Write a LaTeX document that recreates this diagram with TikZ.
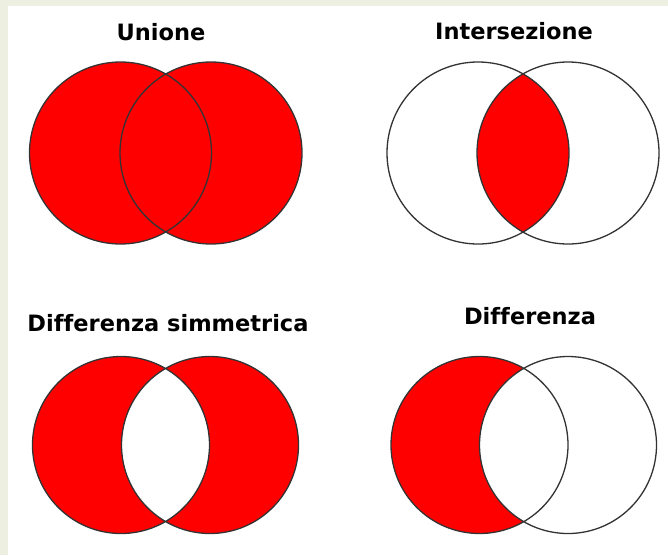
\documentclass[tikz,border=0pt]{standalone}
\usepackage{fontspec}
\setmainfont[Ligatures=NoCommon]{DejaVu Sans}
\usepackage{tikz}
\definecolor{VennRed}{HTML}{FF0000}
\definecolor{PageBeige}{HTML}{EDEFE1}
\definecolor{EdgeGray}{HTML}{333333}

\begin{document}
\begin{tikzpicture}[
  x=1pt, y=-1pt,
  titolo/.style={
    font=\bfseries\fontsize{22.5}{26}\selectfont, text=black, inner sep=0pt
  },
  bordo/.style={draw=EdgeGray, line width=1.3pt},
  pieno/.style={fill=VennRed},
]

% ---------- Page background ----------
\fill[PageBeige] (0,0) rectangle (668,555);
\fill[white] (8,6) rectangle (668,555);
\useasboundingbox (0,0) rectangle (668,555);

% ---------- Titles ----------
\node[titolo] (t_uni)  at (161,32)  {Unione};
\node[titolo] (t_int)  at (514,31)  {Intersezione};
\node[titolo] (t_sym)  at (168,323) {Differenza simmetrica};
\node[titolo] (t_diff) at (530,316) {Differenza};

% ---------- Circle centres ----------
\coordinate (uA) at (120.5,153);  \coordinate (uB) at (211,153);
\coordinate (iA) at (478,153);    \coordinate (iB) at (568,153);
\coordinate (sA) at (121,445);    \coordinate (sB) at (210,445);
\coordinate (dA) at (479.5,445);  \coordinate (dB) at (568,445);

% ---------- Unione ----------
\fill[pieno] (uA) circle[radius=91pt] (uB) circle[radius=91pt];
\draw[bordo] (uA) circle[radius=91pt] (uB) circle[radius=91pt];

% ---------- Intersezione ----------
\begin{scope}
  \clip (iA) circle[radius=91pt];
  \fill[pieno] (iB) circle[radius=91pt];
\end{scope}
\draw[bordo] (iA) circle[radius=91pt] (iB) circle[radius=91pt];

% ---------- Differenza simmetrica ----------
\fill[pieno, even odd rule] (sA) circle[radius=88.5pt] (sB) circle[radius=88.5pt];
\draw[bordo] (sA) circle[radius=88.5pt] (sB) circle[radius=88.5pt];

% ---------- Differenza ----------
\fill[pieno] (dA) circle[radius=88.5pt];
\begin{scope}
  \clip (dA) circle[radius=88.5pt];
  \fill[white] (dB) circle[radius=88.5pt];
\end{scope}
\draw[bordo] (dA) circle[radius=88.5pt] (dB) circle[radius=88.5pt];

\end{tikzpicture}
\end{document}
